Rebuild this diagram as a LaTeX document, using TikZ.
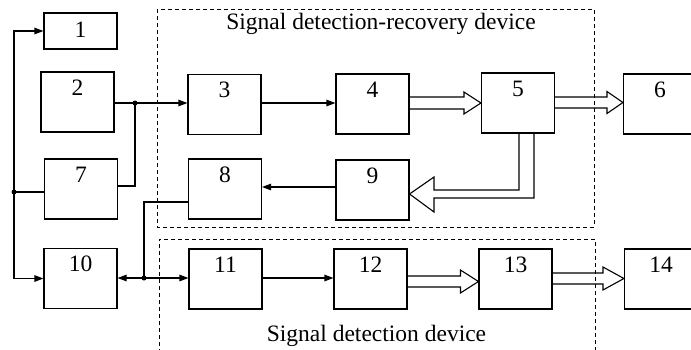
\documentclass[tikz,border=0pt]{standalone}
\usepackage{fontspec}
\setmainfont{Liberation Serif}
\usetikzlibrary{arrows.meta,calc}
\tikzset{
  x=1pt,y=-1pt,
  blk/.style={draw, minimum width=73pt, minimum height=60pt, inner sep=0pt,
    label={[anchor=base,yshift=-24pt,font=\fontsize{23.5}{26}\selectfont,inner sep=0pt]north:#1}},
  arr/.style={-{Triangle[length=9pt,width=6.5pt]}},
  darr/.style={{Triangle[length=9pt,width=6.5pt]}-{Triangle[length=9pt,width=6.5pt]}},
  dot/.style={circle, fill, inner sep=0pt, minimum size=5pt},
  dsh/.style={dashed, dash pattern=on 4pt off 3pt, line width=1pt},
  ttl/.style={anchor=base, font=\fontsize{23.5}{26}\selectfont, inner sep=0pt}
}
\newcommand\harrow[6]{%
  \draw let \p1=(#1.east), \p2=(#2.west), \p3=(0,#3) in
    (\x1,\y3+#4) -- (\x2-#6,\y3+#4) -- (\x2-#6,\y3+#5) -- (\x2,\y3)
    -- (\x2-#6,\y3-#5) -- (\x2-#6,\y3-#4) -- (\x1,\y3-#4);}
\begin{document}
\begin{tikzpicture}[line width=1.1pt]
\useasboundingbox (0,0) rectangle (691,349);
\clip (0,0) rectangle (691,349);

% dashed groups
\draw[dsh] (157,9) rectangle (594,227);
\draw[dsh] (159,360) -- (159,239) -- (595,239) -- (595,360);
\node[ttl] (t1) at (381,29) {Signal detection-recovery device};
\node[ttl] (t2) at (376.5,341) {Signal detection device};

% blocks
\node[draw, minimum width=73pt, minimum height=36pt, inner sep=0pt] (b1) at (80.5,31) {};
\node[anchor=base, font=\fontsize{23.5}{26}\selectfont, inner sep=0pt] (n1) at (80.5,37) {1};
\node[blk=2]  (b2)  at (77.5,102) {};
\node[blk=7]  (b7)  at (81,189) {};
\node[blk=10] (b10) at (80.5,278.5) {};
\node[blk=3]  (b3)  at (224.5,104.5) {};
\node[blk=8]  (b8)  at (225,189) {};
\node[blk=11] (b11) at (225.5,279) {};
\node[blk=4]  (b4)  at (372.5,104) {};
\node[blk=9]  (b9)  at (372.5,190) {};
\node[blk=12] (b12) at (370.5,279) {};
\node[blk=5]  (b5)  at (518,103) {};
\node[blk=13] (b13) at (515.5,279) {};
\node[blk=6]  (b6)  at (660,104) {};
\node[blk=14] (b14) at (661,279) {};

% left trunk
\coordinate (jL) at (14,192);
\node[dot] at (jL) {};
\draw[arr] (jL) |- (b1.west);
\draw[arr] (jL) |- (b10.west);
\draw (jL) -- (jL -| b7.west);

% 2,7 -> 3
\coordinate (j2) at (135,103);
\coordinate (j7) at (135,186);
\node[dot] at (j2) {};
\draw (j2 -| b2.east) -- (j2);
\draw[arr] (j2) -- (j2 -| b3.west);
\draw (j2) -- (j7) -- (j7 -| b7.east);

% 8 - 10 <-> 11
\coordinate (j10) at (144,278);
\coordinate (j8) at (144,202);
\node[dot] at (j10) {};
\draw[darr] (j10 -| b10.east) -- (j10 -| b11.west);
\draw (j10) -- (j8) -- (j8 -| b8.west);

% thin arrows
\coordinate (a34) at (0,103);
\draw[arr] (a34 -| b3.east) -- (a34 -| b4.west);
\coordinate (a98) at (0,187);
\draw[arr] (a98 -| b9.west) -- (a98 -| b8.east);
\coordinate (a1112) at (0,278);
\draw[arr] (a1112 -| b11.east) -- (a1112 -| b12.west);

% hollow arrows
\harrow{b4}{b5}{103}{6pt}{11pt}{17pt}
\harrow{b5}{b6}{102.5}{5.5pt}{11pt}{16pt}
\harrow{b12}{b13}{281.5}{5.5pt}{11.5pt}{18pt}
\harrow{b13}{b14}{278.5}{5.5pt}{11.5pt}{21pt}

% bent hollow arrow 5 -> 9
\coordinate (p1) at (519,0);
\coordinate (p2) at (534,0);
\coordinate (q1) at (519,190);
\coordinate (q2) at (434,190);
\coordinate (q3) at (434,177);
\coordinate (q4) at (0,194);
\coordinate (q5) at (434,212);
\coordinate (q6) at (434,198);
\coordinate (q7) at (534,198);
\draw (p1 |- b5.south) -- (q1) -- (q2) -- (q3) -- (q4 -| b9.east) -- (q5) -- (q6) -- (q7) -- (p2 |- b5.south);
\end{tikzpicture}
\end{document}
